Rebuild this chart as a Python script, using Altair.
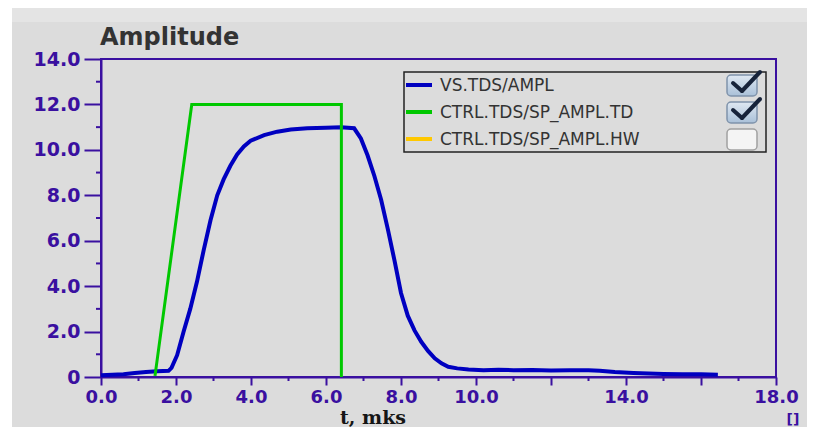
import altair as alt
import pandas as pd

# ---- data ----
t_vs = [0.0, 0.3, 0.6, 0.9, 1.2, 1.5, 1.8, 1.88, 2.03, 2.2, 2.38, 2.56, 2.74, 2.92, 3.1, 3.27,
        3.45, 3.63, 3.81, 3.99, 4.35, 4.7, 5.06, 5.5, 6.0, 6.4, 6.75, 6.93, 7.11, 7.29, 7.47,
        7.65, 7.83, 8.0, 8.18, 8.36, 8.54, 8.72, 8.9, 9.08, 9.26, 9.5, 9.8, 10.2, 10.6, 11.0,
        11.5, 12.0, 12.5, 13.0, 13.3, 13.7, 14.2, 14.6, 15.0, 15.5, 16.0, 16.45]
a_vs = [0.08, 0.10, 0.12, 0.18, 0.22, 0.25, 0.27, 0.40, 0.96, 1.98, 3.0, 4.2, 5.6, 6.9, 8.0, 8.7,
        9.3, 9.8, 10.15, 10.4, 10.65, 10.8, 10.9, 10.95, 10.97, 11.0, 10.95, 10.5, 9.75, 8.85, 7.8,
        6.5, 5.1, 3.7, 2.7, 2.05, 1.55, 1.15, 0.82, 0.6, 0.45, 0.38, 0.33, 0.30, 0.32, 0.30,
        0.31, 0.29, 0.30, 0.30, 0.28, 0.22, 0.18, 0.15, 0.13, 0.12, 0.12, 0.10]
t_td = [1.44, 2.42, 6.41, 6.41]
a_td = [0.05, 12.0, 12.0, 0.0]

x_major = [0, 2, 4, 6, 8, 10, 12, 14, 16, 18]
x_minor = [1, 3, 5, 7, 9, 11, 13, 15, 17]
y_major = [0, 2, 4, 6, 8, 10, 12, 14]
y_minor = [1, 3, 5, 7, 9, 11, 13]

legend_names = ["VS.TDS/AMPL", "CTRL.TDS/SP_AMPL.TD", "CTRL.TDS/SP_AMPL.HW"]
legend_colors = ["#0000c0", "#00c800", "#ffc800"]
legend_checked = [True, True, False]

title_text = "Amplitude"
x_title = "t, mks"
unit_text = "[]"

PURPLE = "#3a10a0"
BG = "#dcdcdc"
W, H = 675, 318
PAD = {"left": 93, "top": 51, "right": 31, "bottom": 50}

xs = alt.Scale(domain=[0, 18], nice=False, zero=False)
ys = alt.Scale(domain=[0, 14], nice=False)

vs_df = pd.DataFrame({"t": t_vs, "a": a_vs, "i": range(len(t_vs))})
td_df = pd.DataFrame({"t": t_td, "a": a_td, "i": range(len(t_td))})
one = alt.Data(values=[{"k": 0}])

x_axis = alt.Axis(values=x_major, tickSize=8, tickWidth=2, tickColor=PURPLE,
                  domainColor=PURPLE, domainWidth=2, labelColor=PURPLE,
                  labelFont="DejaVu Sans", labelFontWeight="bold", labelFontSize=18,
                  labelPadding=3, labelOverlap=False, labelFlush=False, grid=False, title=None,
                  labelExpr="(datum.value == 12 || datum.value == 16) ? '' : format(datum.value, '.1f')")
y_axis = alt.Axis(values=y_major, tickSize=17, tickWidth=2, tickColor=PURPLE,
                  domainColor=PURPLE, domainWidth=2, labelColor=PURPLE,
                  labelFont="DejaVu Sans", labelFontWeight="bold", labelFontSize=19,
                  labelPadding=4, labelOverlap=False, grid=False, title=None,
                  labelExpr="datum.value == 0 ? '0' : format(datum.value, '.1f')")

layers = []

# background decorations (outside plot area)
layers.append(alt.Chart(one).mark_rect(color="white").encode(
    x=alt.value(-93), x2=alt.value(-89), y=alt.value(-51), y2=alt.value(H + 50)))
layers.append(alt.Chart(one).mark_rect(color="#e4e4e4").encode(
    x=alt.value(-89), x2=alt.value(W + 31), y=alt.value(-51), y2=alt.value(-37)))

# data lines
blue = alt.Chart(vs_df).mark_line(color=legend_colors[0], strokeWidth=4, strokeJoin="miter").encode(
    x=alt.X("t:Q", scale=xs, axis=x_axis),
    y=alt.Y("a:Q", scale=ys, axis=y_axis),
    order="i:Q")
green = alt.Chart(td_df).mark_line(color=legend_colors[1], strokeWidth=3, strokeJoin="miter").encode(
    x=alt.X("t:Q", scale=xs), y=alt.Y("a:Q", scale=ys), order="i:Q")
layers += [blue, green]

# minor ticks
layers.append(alt.Chart(pd.DataFrame({"v": x_minor})).mark_rule(color=PURPLE, strokeWidth=2).encode(
    x=alt.X("v:Q", scale=xs), y=alt.value(H), y2=alt.value(H + 4)))
layers.append(alt.Chart(pd.DataFrame({"v": y_minor})).mark_rule(color=PURPLE, strokeWidth=2).encode(
    y=alt.Y("v:Q", scale=ys), x=alt.value(-5), x2=alt.value(0)))

# texts
layers.append(alt.Chart(one).mark_text(text=title_text, font="DejaVu Sans", fontWeight="bold",
                                       fontSize=24, color="#333333", align="left",
                                       baseline="alphabetic").encode(
    x=alt.value(-1), y=alt.value(-14)))
layers.append(alt.Chart(one).mark_text(text=x_title, font="DejaVu Serif", fontWeight="bold",
                                       fontSize=19, color="#151515", align="center",
                                       baseline="alphabetic").encode(
    x=alt.value(272), y=alt.value(365)))
layers.append(alt.Chart(one).mark_text(text=unit_text, font="DejaVu Sans", fontWeight="bold",
                                       fontSize=14, color=PURPLE, align="center",
                                       baseline="alphabetic").encode(
    x=alt.value(692), y=alt.value(365)))

# legend box
layers.append(alt.Chart(one).mark_rect(fill=BG, stroke="#222222", strokeWidth=1.5).encode(
    x=alt.value(303), x2=alt.value(665), y=alt.value(13), y2=alt.value(93)))
row_y = [26, 53, 80]
for name, col, chk, cy in zip(legend_names, legend_colors, legend_checked, row_y):
    layers.append(alt.Chart(one).mark_rule(color=col, strokeWidth=4).encode(
        x=alt.value(305), x2=alt.value(331), y=alt.value(cy), y2=alt.value(cy)))
    layers.append(alt.Chart(one).mark_text(text=name, font="DejaVu Sans", fontSize=17,
                                           color="#333333", align="left", baseline="middle").encode(
        x=alt.value(339), y=alt.value(cy + 1)))
    if chk:
        fill = {"gradient": "linear", "x1": 0, "y1": 0, "x2": 0, "y2": 1,
                "stops": [{"offset": 0, "color": "#dfe8f2"}, {"offset": 1, "color": "#a9c0d8"}]}
        stroke = "#7f93ab"
    else:
        fill = "#f4f4f4"
        stroke = "#a0a0a0"
    layers.append(alt.Chart(one).mark_rect(fill=fill, stroke=stroke, strokeWidth=1.5,
                                           cornerRadius=4).encode(
        x=alt.value(626), x2=alt.value(656), y=alt.value(cy - 10), y2=alt.value(cy + 11)))
    if chk:
        layers.append(alt.Chart(one).mark_rule(color="#17233a", strokeWidth=4, strokeCap="round").encode(
            x=alt.value(632), y=alt.value(cy - 2), x2=alt.value(641), y2=alt.value(cy + 6)))
        layers.append(alt.Chart(one).mark_rule(color="#17233a", strokeWidth=4, strokeCap="round").encode(
            x=alt.value(641), y=alt.value(cy + 6), x2=alt.value(659), y2=alt.value(cy - 13)))

chart = alt.layer(*layers).properties(
    width=W, height=H,
    autosize=alt.AutoSizeParams(type="none"),
    padding=PAD,
    background=BG,
).configure_view(stroke=PURPLE, strokeWidth=2)

chart.save("out.html", embed_options={"renderer": "svg", "actions": False})
